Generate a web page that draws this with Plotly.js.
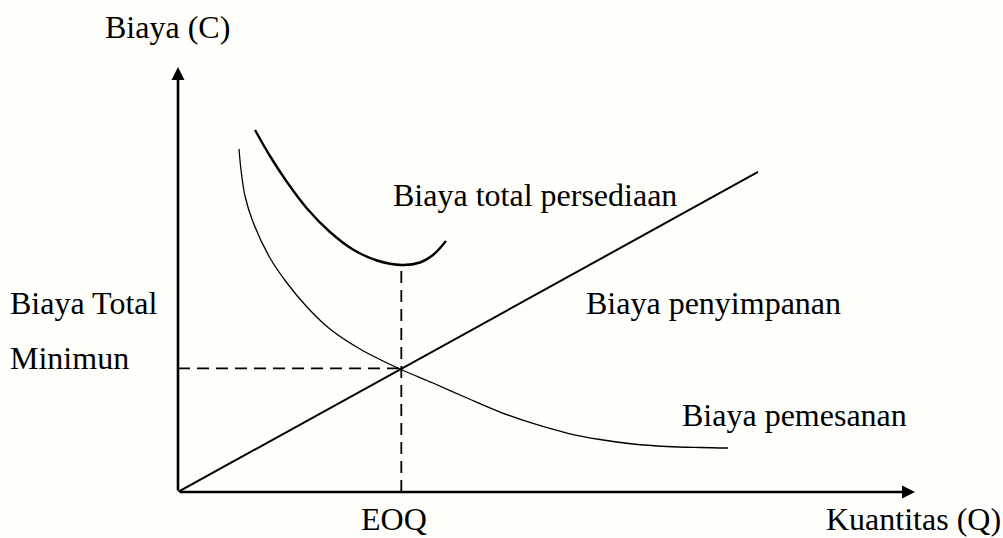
<!DOCTYPE html>
<html>
<head>
<meta charset="utf-8">
<script src="https://cdn.plot.ly/plotly-3.0.1.min.js"></script>
<style>
  html, body { margin: 0; padding: 0; background: #fefefa; }
  #eoq { width: 1003px; height: 538px; }
</style>
</head>
<body>
<div id="eoq"></div>
<script>
// EOQ diagram

// holding cost (straight line)
const holdQ = [0, 7.87]
const holdCost = [0, 7.53]

// ordering cost (falling curve)
const orderQ = [0.828, 0.855, 0.909, 1.018, 1.248, 1.479, 1.750, 2.062, 2.469, 3.012, 3.460, 3.921, 4.369, 4.817, 5.278, 5.726, 6.174, 6.635, 7.083, 7.463]
const orderCost = [8.071, 7.576, 6.965, 6.353, 5.506, 4.918, 4.353, 3.835, 3.365, 2.894, 2.565, 2.212, 1.882, 1.612, 1.388, 1.235, 1.129, 1.071, 1.047, 1.035]

// total inventory cost (U curve)
const totalQ = [1.045, 1.248, 1.479, 1.750, 2.062, 2.374, 2.700, 3.039, 3.284, 3.460, 3.636]
const totalCost = [8.518, 7.906, 7.294, 6.671, 6.118, 5.706, 5.447, 5.341, 5.400, 5.576, 5.906]

// EOQ point
const eoq = 3.03
const crossCost = 2.91
const totalMin = 5.34

const labels = ['Biaya (C)', 'Biaya total persediaan', 'Biaya penyimpanan', 'Biaya Total', 'Minimun', 'Biaya pemesanan', 'EOQ', 'Kuantitas (Q)']

const drawChart = () => {
  // plot box in pixels: left 178, top 67, width 737, height 425
  const PX = x => (x - 178) / 737
  const PY = y => (492 - y) / 425
  const font = { family: 'Liberation Serif, Times New Roman, serif', size: 32, color: '#000' }

  const data = [
    {
      x: holdQ, y: holdCost, mode: 'lines', type: 'scatter',
      line: { color: '#000', width: 2 },
    },
    {
      x: orderQ, y: orderCost, mode: 'lines', type: 'scatter',
      line: { color: '#000', width: 1.3, shape: 'spline', smoothing: 1 },
    },
    {
      x: totalQ, y: totalCost, mode: 'lines', type: 'scatter',
      line: { color: '#000', width: 2.4, shape: 'spline', smoothing: 1 },
    },
    {
      x: [eoq, eoq], y: [0, totalMin], mode: 'lines', type: 'scatter',
      line: { color: '#000', width: 1.8, dash: '12px,7px' },
    },
    {
      x: [0, eoq], y: [crossCost, crossCost], mode: 'lines', type: 'scatter',
      line: { color: '#000', width: 1.8, dash: '12px,7px' },
    },
  ]

  const axisArrow = (x, y) => ({
    x: x, y: y, ax: 0, ay: 0,
    xref: 'x', yref: 'y', axref: 'x', ayref: 'y',
    text: '', showarrow: true,
    arrowhead: 2, arrowsize: 1, arrowwidth: 2.6, arrowcolor: '#000', standoff: 0,
  })

  const label = (text, x, y, anchor, vanchor) => ({
    text: text, x: PX(x), y: PY(y), xref: 'paper', yref: 'paper',
    xanchor: anchor, yanchor: vanchor || 'middle', borderpad: 0,
    showarrow: false, font: font,
  })

  const layout = {
    width: 1003,
    height: 538,
    margin: { l: 178, r: 88, t: 67, b: 46 },
    paper_bgcolor: '#fefefa',
    plot_bgcolor: '#fefefa',
    showlegend: false,
    xaxis: { range: [0, 10], visible: false, fixedrange: true },
    yaxis: { range: [0, 10], visible: false, fixedrange: true },
    annotations: [
      axisArrow(10, 0),
      axisArrow(0, 10),
      label(labels[0], 167, 27, 'center'),
      label(labels[1], 535, 195, 'center'),
      label(labels[2], 713, 303, 'center'),
      label(labels[3], 9, 303, 'left'),
      label(labels[4], 9, 358, 'left'),
      label(labels[5], 794, 415, 'center'),
      label(labels[6], 394, 538, 'center', 'bottom'),
      label(labels[7], 1002, 538, 'right', 'bottom'),
    ],
  }

  Plotly.newPlot('eoq', data, layout, { displayModeBar: false, staticPlot: true })
}

drawChart()
</script>
</body>
</html>
